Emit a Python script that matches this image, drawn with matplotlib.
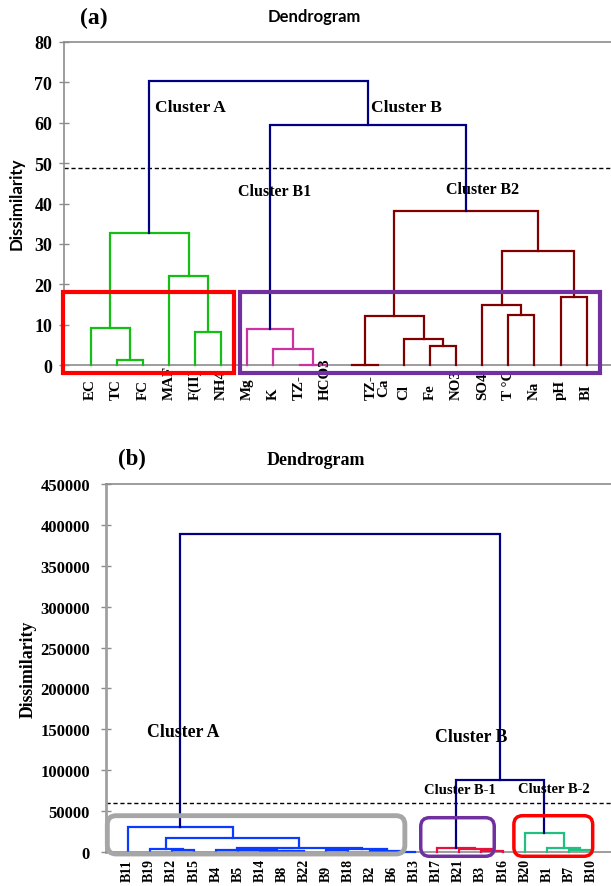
import matplotlib
matplotlib.use("Agg")
import matplotlib.pyplot as plt
from matplotlib.patches import FancyBboxPatch, Rectangle

SERIF = "Liberation Serif"
SANS = "Lato"

# ---- panel (a): parameters ----
LEAVES_A = ["EC", "TC", "FC", "MAF", "F(II)", "NH4", "Mg", "K", "TZ-", "HCO3",
            "TZ-b", "Ca", "Cl", "Fe", "NO3", "SO4", "T°C", "Na", "pH", "BI"]
LABELS_A = ["EC", "TC", "FC", "MAF", "F(II)", "NH4", "Mg", "K", "TZ-", "HCO3",
            "", "TZ-\nCa", "Cl", "Fe", "NO3", "SO4", "T °C", "Na", "pH", "BI"]
# (left child, right child, dissimilarity); "mN" = N-th merge
MERGES_A = [
    ("TC", "FC", 1.2),
    ("EC", "m0", 9.2),
    ("F(II)", "NH4", 8.3),
    ("MAF", "m2", 22.1),
    ("m1", "m3", 32.6),
    ("TZ-", "HCO3", 0.0),
    ("K", "m5", 4.0),
    ("Mg", "m6", 8.9),
    ("TZ-b", "Ca", 0.0),
    ("Fe", "NO3", 4.85),
    ("Cl", "m9", 6.5),
    ("m8", "m10", 12.3),
    ("T°C", "Na", 12.5),
    ("SO4", "m12", 14.9),
    ("pH", "BI", 17.0),
    ("m13", "m14", 28.2),
    ("m11", "m15", 38.2),
    ("m7", "m16", 59.5),
    ("m4", "m17", 70.4),
]
CUT_A = 48.8

# ---- panel (b): samples ----
LEAVES_B = ["B11", "B19", "B12", "B15", "B4", "B5", "B14", "B8", "B22", "B9", "B18",
            "B2", "B6", "B13", "B17", "B21", "B3", "B16", "B20", "B1", "B7", "B10"]
MERGES_B = [
    ("B12", "B15", 1500),
    ("B19", "m0", 3600),
    ("B8", "B22", 300),
    ("B14", "m2", 800),
    ("B5", "m3", 1500),
    ("B4", "m4", 2000),
    ("B9", "B18", 2500),
    ("B6", "B13", 200),
    ("B2", "m7", 1200),
    ("m6", "m8", 2800),
    ("m5", "m9", 4000),
    ("m1", "m10", 16300),
    ("B11", "m11", 30600),
    ("B3", "B16", 500),
    ("B21", "m13", 3000),
    ("B17", "m14", 4000),
    ("B7", "B10", 2000),
    ("B1", "m16", 4200),
    ("B20", "m17", 23300),
    ("m15", "m18", 88200),
    ("m12", "m19", 389000),
]
CUT_B = 60000

NAVY = "#000080"
GREEN = "#14be14"
PINK = "#cc33a0"
MAROON = "#800000"
BLUE_A = "#0a3cff"
CRIMSON = "#e8103c"
GREEN_B = "#20c080"
AXIS_GRAY = "#8c8c8c"

COLORS_A = [GREEN] * 5 + [PINK] * 3 + [MAROON] * 9 + [NAVY] * 2
COLORS_B = [BLUE_A] * 13 + [CRIMSON] * 3 + [GREEN_B] * 3 + [NAVY] * 2


def draw_tree(ax, leaves, merges, colors, lw=1.6):
    pos = {name: (i, 0.0) for i, name in enumerate(leaves)}
    for k, ((a, b, h), color) in enumerate(zip(merges, colors)):
        xa, ya = pos[a]
        xb, yb = pos[b]
        ax.plot([xa, xa, xb, xb], [ya, h, h, yb], color=color, lw=lw,
                solid_joinstyle="miter", clip_on=False, zorder=3)
        pos[f"m{k}"] = ((xa + xb) / 2.0, h)


def style_axis(ax, ymax, step, fontsize, pad):
    for side in ["left", "top", "bottom"]:
        ax.spines[side].set_color(AXIS_GRAY)
        ax.spines[side].set_linewidth(1.2)
    ax.spines["right"].set_visible(False)
    ax.set_ylim(0, ymax)
    ax.set_yticks(range(0, ymax + 1, step))
    ax.set_xticks([])
    ax.tick_params(axis="y", direction="inout", length=7, width=1,
                   color=AXIS_GRAY, pad=pad)
    for t in ax.get_yticklabels():
        t.set_fontfamily(SERIF)
        t.set_fontweight("bold")
        t.set_fontsize(fontsize)


fig = plt.figure(figsize=(6.11, 8.87), dpi=100)

# ---------------- panel (a) ----------------
ax_a = fig.add_axes([64 / 611, 1 - 366.3 / 887, 547 / 611, 323.6 / 887])
ax_a.set_xlim(-1.02, 19.93)
style_axis(ax_a, 80, 10, 13, 5)
draw_tree(ax_a, LEAVES_A, MERGES_A, COLORS_A)
ax_a.axhline(CUT_A, color="black", lw=1, ls=(0, (3, 2)), zorder=2)

for i, lab in enumerate(LABELS_A):
    ax_a.text(i, -8.34, lab, rotation=90, ha="center", va="bottom",
              fontfamily=SERIF, fontweight="bold", fontsize=10.8,
              linespacing=0.95, clip_on=False)

ax_a.add_patch(Rectangle((-1.05, -1.9), 6.55, 19.9, fill=False,
                         edgecolor="#ff0000", lw=3, clip_on=False, zorder=4))
ax_a.add_patch(Rectangle((5.73, -1.9), 13.79, 19.9, fill=False,
                         edgecolor="#7030a0", lw=3, clip_on=False, zorder=4))

for x, y, txt, fs in [(2.46, 63.9, "Cluster A", 12.5), (10.73, 63.9, "Cluster B", 12.5),
                      (5.64, 43.1, "Cluster B1", 11.5), (13.6, 43.6, "Cluster B2", 11.5)]:
    ax_a.text(x, y, txt, ha="left", va="center", fontfamily=SERIF,
              fontweight="bold", fontsize=fs, zorder=5)

fig.text(94 / 611, 1 - 18 / 887, "(a)", ha="center", va="center",
         fontfamily=SERIF, fontweight="bold", fontsize=17)
fig.text(314 / 611, 1 - 17 / 887, "Dendrogram", ha="center", va="center",
         fontfamily=SANS, fontweight="bold", fontsize=12)
fig.text(17 / 611, 1 - 204 / 887, "Dissimilarity", rotation=90, ha="center",
         va="center", fontfamily=SANS, fontweight="bold", fontsize=12.2)

# ---------------- panel (b) ----------------
ax_b = fig.add_axes([106 / 611, 1 - 852.7 / 887, 505 / 611, 367.4 / 887])
ax_b.set_xlim(-0.98, 21.9)
style_axis(ax_b, 450000, 50000, 12, 8)
ax_b.spines["left"].set_color("#a0a0a0")
ax_b.spines["left"].set_linewidth(2)
draw_tree(ax_b, LEAVES_B, MERGES_B, COLORS_B)
ax_b.axhline(CUT_B, color="black", lw=1, ls=(0, (3, 2)), zorder=2)

for i, lab in enumerate(LEAVES_B):
    ax_b.text(i, -35500, lab, rotation=90, ha="center", va="bottom",
              fontfamily=SERIF, fontweight="bold", fontsize=10, clip_on=False)

# rounded boxes: rounding given in x units, mutation_aspect scales it to y units
aspect_b = 1225 * 22.07
for (x0, y0, x1, y1, col, lw) in [(-0.92, -2800, 12.56, 44100, "#a6a6a6", 3.5),
                                  (13.28, -5600, 16.61, 41650, "#7030a0", 2.5),
                                  (17.5, -5600, 21.07, 44100, "#ff0000", 2.5)]:
    ax_b.add_patch(FancyBboxPatch((x0, y0), x1 - x0, y1 - y0,
                                  boxstyle="round,pad=0,rounding_size=0.4",
                                  mutation_aspect=aspect_b, fill=False,
                                  edgecolor=col, lw=lw, clip_on=False, zorder=4))

for x, y, txt, fs in [(0.86, 147000, "Cluster A", 12.8), (13.92, 141400, "Cluster B", 12.8),
                      (13.43, 75600, "Cluster B-1", 10.5), (17.67, 76800, "Cluster B-2", 10.5)]:
    ax_b.text(x, y, txt, ha="left", va="center", fontfamily=SERIF,
              fontweight="bold", fontsize=fs, zorder=5)

fig.text(131.7 / 611, 1 - 459.3 / 887, "(b)", ha="center", va="center",
         fontfamily=SERIF, fontweight="bold", fontsize=16.5)
fig.text(315.5 / 611, 1 - 460.7 / 887, "Dendrogram", ha="center", va="center",
         fontfamily=SERIF, fontweight="bold", fontsize=13)
fig.text(28 / 611, 1 - 669 / 887, "Dissimilarity", rotation=90, ha="center",
         va="center", fontfamily=SERIF, fontweight="bold", fontsize=12.8)

fig.savefig("out.png", dpi=100)
